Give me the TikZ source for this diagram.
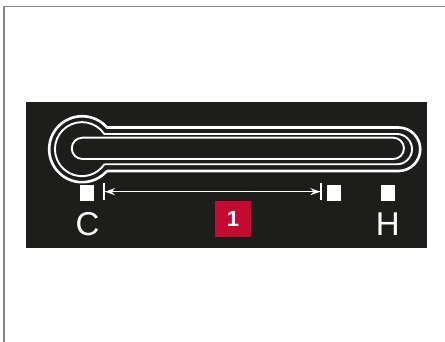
\documentclass[tikz,border=0pt]{standalone}
\usepackage{xcolor}
\usepackage{fontspec}
\setmainfont{Liberation Sans}
\usetikzlibrary{arrows.meta}
\definecolor{Panel}{HTML}{1D1D1B}
\definecolor{Crimson}{HTML}{C40A30}
\definecolor{Edge}{HTML}{858585}

\begin{document}
\begin{tikzpicture}[
    x=1pt,y=1pt,
    edgeline/.style={draw=Edge,line width=1.9pt},
    pipe/.style={draw=white,line width=1.9pt},
    port/.style={fill=white,inner sep=0pt,minimum width=14pt,minimum height=16pt},
    portname/.style={text=white,inner sep=0pt,font=\fontsize{33}{33}\selectfont},
    span/.style={draw=white,line width=1.5pt,
      {Bar[width=17pt,line width=1.6pt,sep=0pt]Stealth[length=10pt,width=7pt,sep=0pt]}-{Stealth[length=10pt,width=7pt,sep=0pt]Bar[width=17pt,line width=1.6pt,sep=0pt]}},
    tag/.style={fill=Crimson,text=white,inner sep=0pt,minimum size=36pt,font=\fontsize{22}{22}\selectfont\bfseries}
]
\useasboundingbox (0,0) rectangle (445,342);
\coordinate (edgetop) at (445,335.5);
\coordinate (edgecorner) at (4,335.5);
\coordinate (edgebottom) at (4,0);
\draw[edgeline] (edgetop)--(edgecorner)--(edgebottom);
\fill[Panel] (26,93.5) rectangle (427,240);
% tube outlines
\draw[pipe,line width=2.6pt] (107,171)--(398.5,171) arc[start angle=-90,end angle=90,radius=21.75pt]
  --(107,214.5) arc[start angle=41.2,end angle=318.8,radius=33pt];
\draw[pipe] (104.3,177.7)--(396.85,177.7) arc[start angle=-90,end angle=90,radius=15.15pt]
  --(104.3,208) arc[start angle=34.1,end angle=325.9,radius=27pt];
\draw[pipe] (82.4,183)--(393.3,183) arc[start angle=-90,end angle=90,radius=10.65pt]
  --(82.4,204.3) arc[start angle=90,end angle=270,radius=10.65pt];
\node[port] (portc) at (87,149) {};
\node[port] (portm) at (334.3,149) {};
\node[port] (porth) at (387.5,149) {};
\node[portname] (namec) at (87.5,118) {C};
\node[portname] (nameh) at (387.7,118) {H};
\node[tag] (tag1) at (233,123) {1};
\coordinate (spanl) at (103.3,150.3);
\coordinate (spanr) at (322,150.3);
\draw[span] (spanl)--(spanr);
\end{tikzpicture}
\end{document}
